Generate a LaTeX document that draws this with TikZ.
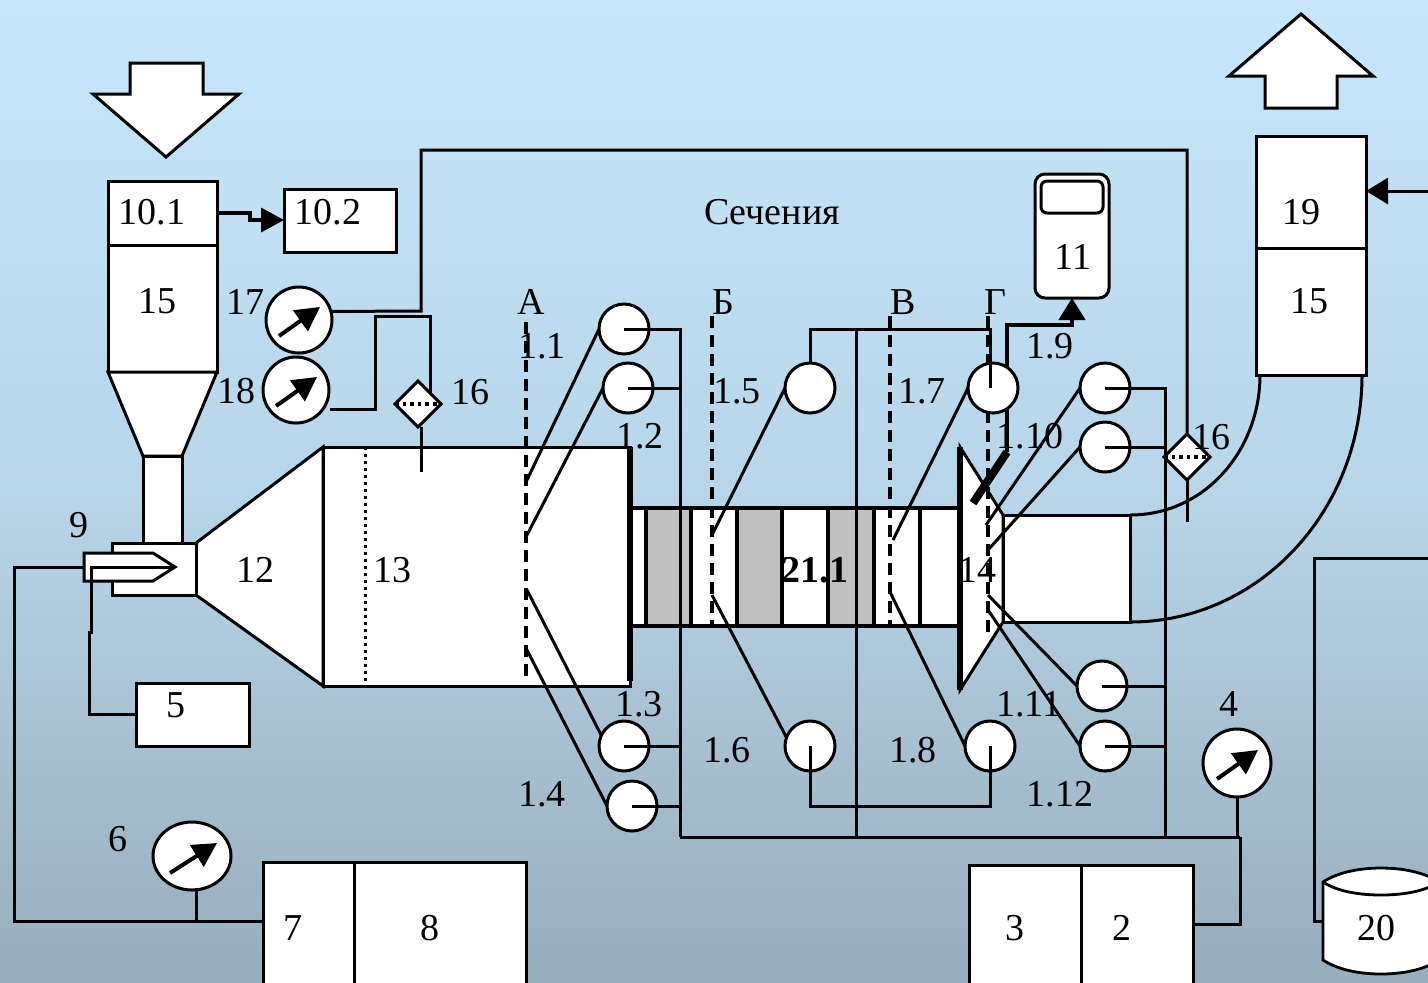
\documentclass[tikz,border=0pt]{standalone}
\usepackage{fontspec}
\setmainfont{Liberation Serif}
\usetikzlibrary{shapes.geometric,arrows.meta,calc}
\definecolor{bgtop}{HTML}{C6E7FC}
\definecolor{bgbot}{HTML}{97ADBC}
\definecolor{panel}{HTML}{C0C0C0}
\tikzset{
  lw/.style={line width=1.5pt},
  wire/.style={line width=1.5pt},
  shapeline/.style={draw=black,fill=white,line width=1.5pt,line join=miter},
  boxs/.style={shapeline,rectangle,inner sep=0pt,outer sep=0pt},
  sensor/.style={circle,draw=black,fill=white,line width=1.5pt,inner sep=0pt,outer sep=0pt,minimum size=25pt},
  gauge/.style={circle,draw=black,fill=white,line width=1.5pt,inner sep=0pt,outer sep=0pt,minimum size=33pt},
  needle/.style={line width=2pt,-{Triangle[length=12pt,width=12.5pt]}},
  filt/.style={diamond,aspect=1,draw=black,fill=white,line width=1.5pt,inner sep=0pt,outer sep=0pt,minimum size=23pt},
  sect/.style={line width=1.8pt,dash pattern=on 6pt off 3.5pt},
  lbl/.style={anchor=base,yshift=-6.5pt,inner sep=0pt,outer sep=0pt,text=black},
  tip/.style={-{Triangle[length=11pt,width=13pt]}},
}
% box node whose text baseline is centred on (tx,ty)
\newcommand\boxn[8]{%
  \pgfmathsetmacro\bcx{(#2+#4)/2}\pgfmathsetmacro\bcy{(#3+#5)/2}%
  \pgfmathsetmacro\bw{(#4-#2)*.5}\pgfmathsetmacro\bh{(#5-#3)*.5}%
  \pgfmathsetmacro\bdx{(#6-\bcx)*.5}\pgfmathsetmacro\bdy{(\bcy-#7-13)*.5}%
  \node[boxs,minimum width=\bw pt,minimum height=\bh pt] (#1) at (\bcx,\bcy)
    {\hbox to 0pt{\kern\bdx pt\hbox to 0pt{\hss\smash{\raisebox{\bdy pt}{#8}}\hss}\hss}};%
}
\newcommand\needlein[1]{\draw[needle] ([shift={(-20,16)}]#1.center) -- ([shift={(21,-13)}]#1.center);}
\begin{document}
\begin{tikzpicture}[x=0.5pt,y=-0.5pt,font=\fontsize{19}{23}\selectfont]
\useasboundingbox (0,0) rectangle (1428,982);
\clip (0,0) rectangle (1428,982);
\shade[top color=bgtop,bottom color=bgbot,middle color=bgtop!70!bgbot] (0,0) rectangle (1428,982);

% big arrows
\draw[shapeline] (130,63) -- (203,63) -- (203,94) -- (239,94) -- (166,157) -- (93,94) -- (130,94) -- cycle;
\draw[shapeline] (1301,14) -- (1373,76) -- (1337,76) -- (1337,108) -- (1265,108) -- (1265,76) -- (1229,76) -- cycle;

% left: cyclone
\boxn{b101}{108}{181}{217}{245}{152}{211}{10.1}
\boxn{b15a}{108}{245}{217}{372}{157}{300}{15}
\draw[shapeline] (b15a.south west) -- (b15a.south east) -- (182,456) -- (143,456) -- cycle;
\draw[shapeline] (143,456) rectangle (182,543);
\boxn{b102}{284}{189}{396}{252}{328}{211}{10.2}
\boxn{b5}{136}{683}{249}{746}{176}{704}{5}

% combustor
\draw[shapeline] (196,543) -- (323,447) -- (323,686) -- (196,595) -- cycle;
\draw[shapeline] (112,543) rectangle (196,595);
\draw[shapeline] (84,553) -- (153,553) -- (175,567) -- (153,581) -- (84,581) -- cycle;
\draw[shapeline] (323,447) rectangle (630,686);
\draw[line width=1.5pt,dotted] (365,447) -- (365,686);

% duct
\fill[white] (632,508) rectangle (960,626);
\fill[panel] (646,508) rectangle (691,626);
\fill[panel] (737,508) rectangle (782,626);
\fill[panel] (828,508) rectangle (874,626);
\foreach \xx in {646,691,737,782,828,874,920} \draw[line width=1.7pt] (\xx,508) -- (\xx,626);
\draw[line width=1.8pt] (632,508) -- (960,508) (632,626) -- (960,626);
\draw[line width=2.6pt] (630,447) -- (630,681);

% turbine and exhaust
\draw[shapeline] (1003,515) rectangle (1130,622);
\draw[shapeline] (960,447) -- (1003,515) -- (1003,622) -- (960,690) -- cycle;
\draw[line width=2.6pt] (960,447) -- (960,690);
\draw[lw] (1130,515) .. controls (1205,515) and (1260,450) .. (1260,375);
\draw[lw] (1130,622) .. controls (1260,622) and (1362,510) .. (1362,375);
\boxn{b19}{1256}{136}{1366}{248}{1301}{211}{19}
\boxn{b15b}{1256}{248}{1366}{375}{1309}{300}{15}
\coordinate (feedR) at (1428,191);
\draw[lw,tip] (feedR) -- (b19.east |- feedR);

% section lines
\coordinate (secAt) at (526,322); \coordinate (secAb) at (526,680);
\coordinate (secBt) at (712,316); \coordinate (secBb) at (712,625);
\coordinate (secVt) at (890,316); \coordinate (secVb) at (890,625);
\coordinate (secGt) at (988,316); \coordinate (secGb) at (988,635);
\draw[sect] (secAt) -- (secAb);
\draw[sect] (secBt) -- (secBb);
\draw[sect] (secVt) -- (secVb);
\draw[sect] (secGt) -- (secGb);

% device 11 and probe
\node[draw=black,fill=white,line width=1.5pt,rounded corners=5pt,minimum width=37pt,minimum height=62pt,inner sep=0pt,outer sep=0pt] (d11) at (1072,236) {};
\node[draw=black,fill=white,line width=1.5pt,rounded corners=3pt,minimum width=31pt,minimum height=16pt,inner sep=0pt,outer sep=0pt] (d11s) at (1072,197) {};
\coordinate (probe) at (1007,452);
\coordinate (bend) at (1007,325);
\draw[line width=2.2pt,tip] (probe) -- (bend) -| (d11.south);
\draw[line width=4pt] (973,503) -- (probe);

% sensors
\foreach \n/\x/\y in {s1/624/329,s2/628/388,s3/624/746,s4/632/806,s5/810/388,s6/810/746,s7/993/388,s8/990/746,s9/1105/388,s10/1105/447,s11/1102/686,s12/1105/746}
  \node[sensor] (\n) at (\x,\y) {};

% probes to sections
\foreach \n/\a/\x/\y in {s1/180/527/480,s2/180/527/535,s3/155/527/590,s4/180/527/650,s5/180/712/535,s6/160/712/595,s7/180/893/540,s8/180/890/592,s9/180/986/525,s10/180/988/550,s11/180/988/595,s12/180/988/610}{
  \coordinate (p\n) at (\x,\y);
  \draw[wire] (\n.\a) -- (p\n);
}

% sensor bus
\coordinate (busA) at (680,837);
\coordinate (busB) at (856,837);
\coordinate (busC) at (1165,837);
\coordinate (busD) at (1240,837);
\coordinate (railT) at (856,329);
\draw[wire] (s1.center) -| (busA);
\draw[wire] (s2.center) -- (s2.center -| busA);
\draw[wire] (s3.center) -- (s3.center -| busA);
\draw[wire] (s4.center) -- (s4.center -| busA);
\draw[wire] (busA) -- (busD);
\draw[wire] (railT) -- (busB);
\draw[wire] (s5.north) |- (railT) -- (990,329) -- (s8.center |- s7.center);
\draw[wire] (s6.center) |- (990,806) -- (s8.center);
\draw[wire] (s9.center) -| (busC);
\draw[wire] (s10.center) -- (s10.center -| busC);
\draw[wire] (s11.center) -- (s11.center -| busC);
\draw[wire] (s12.center) -- (s12.center -| busC);

% gauges
\node[gauge] (g17) at (299,320) {};
\node[gauge] (g18) at (296,390) {};
\node[ellipse,draw=black,fill=white,line width=1.5pt,inner sep=0pt,outer sep=0pt,minimum width=39pt,minimum height=34pt] (g6) at (192,856) {};
\node[gauge,minimum size=34pt] (g4) at (1237,763) {};
\needlein{g17}\needlein{g18}\needlein{g4}
\draw[needle] ([shift={(-22,17)}]g6.center) -- ([shift={(25,-13)}]g6.center);

% pressure lines (behind the filters)
\draw[wire] (g17.15) -- (421,311) -- (421,150) -- (1187,150) -- (1187,457);
\draw[wire] (330,409) -- (375,409) -- (375,316) -- (430,316) -- (430,395);

% filters
\node[filt] (f1) at (418,404) {};
\node[filt] (f2) at (1187,457) {};
\draw[line width=1.8pt,dotted] (f1.west) -- (f1.east);
\draw[line width=1.8pt,dotted] (f2.west) -- (f2.east);
\coordinate (f1low) at (421,472);
\coordinate (f2low) at (1187,522);
\draw[wire] ([xshift=1.5pt]f1.south) -- (f1low);
\draw[wire] (f2.south) -- (f2low);

% lower boxes
\boxn{b7}{263}{862}{354}{990}{293}{927}{7}
\boxn{b8}{354}{862}{526}{990}{430}{927}{8}
\boxn{b3}{969}{865}{1081}{990}{1015}{927}{3}
\boxn{b2}{1081}{865}{1193}{990}{1122}{927}{2}

% burner lines
\coordinate (fuelIn) at (14,567);
\coordinate (g6j) at (196,921);
\draw[wire] (84,567) -- (fuelIn) -- (14,921) -- (b7.west |- g6j);
\draw[wire] (196,888) -- (g6j);
\draw[line width=1.5pt] (175,567) -- (91,567) -- (91,632) -- (89,632) -- (89,714) -- (b5.west |- 89,714);
\draw[wire] (g4.south) -- (g4.south |- busD);
\draw[wire] (busD) -- (1240,924) -- (b2.east |- 1240,924);
\draw[line width=1.8pt,-{Triangle[length=11.5pt,width=12pt]}] (b101.east |- 217,213) -- (250,213) -- (250,220) -- (b102.west |- 250,220);

% tank 20
\coordinate (tankIn) at (1323,921);
\draw[wire] (1428,558) -- (1314,558) -- (1314,921) -- (tankIn);
\draw[shapeline,line width=1.4pt] (1323,882) -- (1323,960) .. controls (1335,968) and (1355,974) .. (1381,974) .. controls (1407,974) and (1427,968) .. (1439,960) -- (1439,882) .. controls (1427,874) and (1407,868) .. (1381,868) .. controls (1355,868) and (1335,874) .. (1323,882) -- cycle;
\draw[line width=1.4pt] (1323,882) .. controls (1335,890) and (1355,895) .. (1381,895) .. controls (1407,895) and (1427,890) .. (1439,882);

% labels
\foreach \n/\x/\y/\t in {l17/245/301/17,l18/236/390/18,l16a/470/391/16,l9/79/524/9,l12/255/569/12,l13/392/569/13,l6/118/838/6,lSA/531/301/А,lSB/723/301/Б,lSV/903/301/В,lSG/995/301/Г,l11/1073/256/11,l11a/542/345/1.1,l12a/640/435/1.2,l13a/639/703/1.3,l14a/542/793/1.4,l15a/737/390/1.5,l16b/727/749/1.6,l17a/922/390/1.7,l18a/913/749/1.8,l19a/1050/345/1.9,l110/1030/435/1.10,l111/1029/703/1.11,l112/1060/793/1.12,l14/977/569/14,l16c/1211/436/16,l4/1229/703/4,l20/1376/927/20}
  \node[lbl] (\n) at (\x,\y) {\t};
\node[lbl] (lsec) at (772,211) {Сечения};
\node[lbl,font=\fontsize{19}{23}\selectfont\bfseries] (l211) at (815,569) {21.1};
\end{tikzpicture}
\end{document}
